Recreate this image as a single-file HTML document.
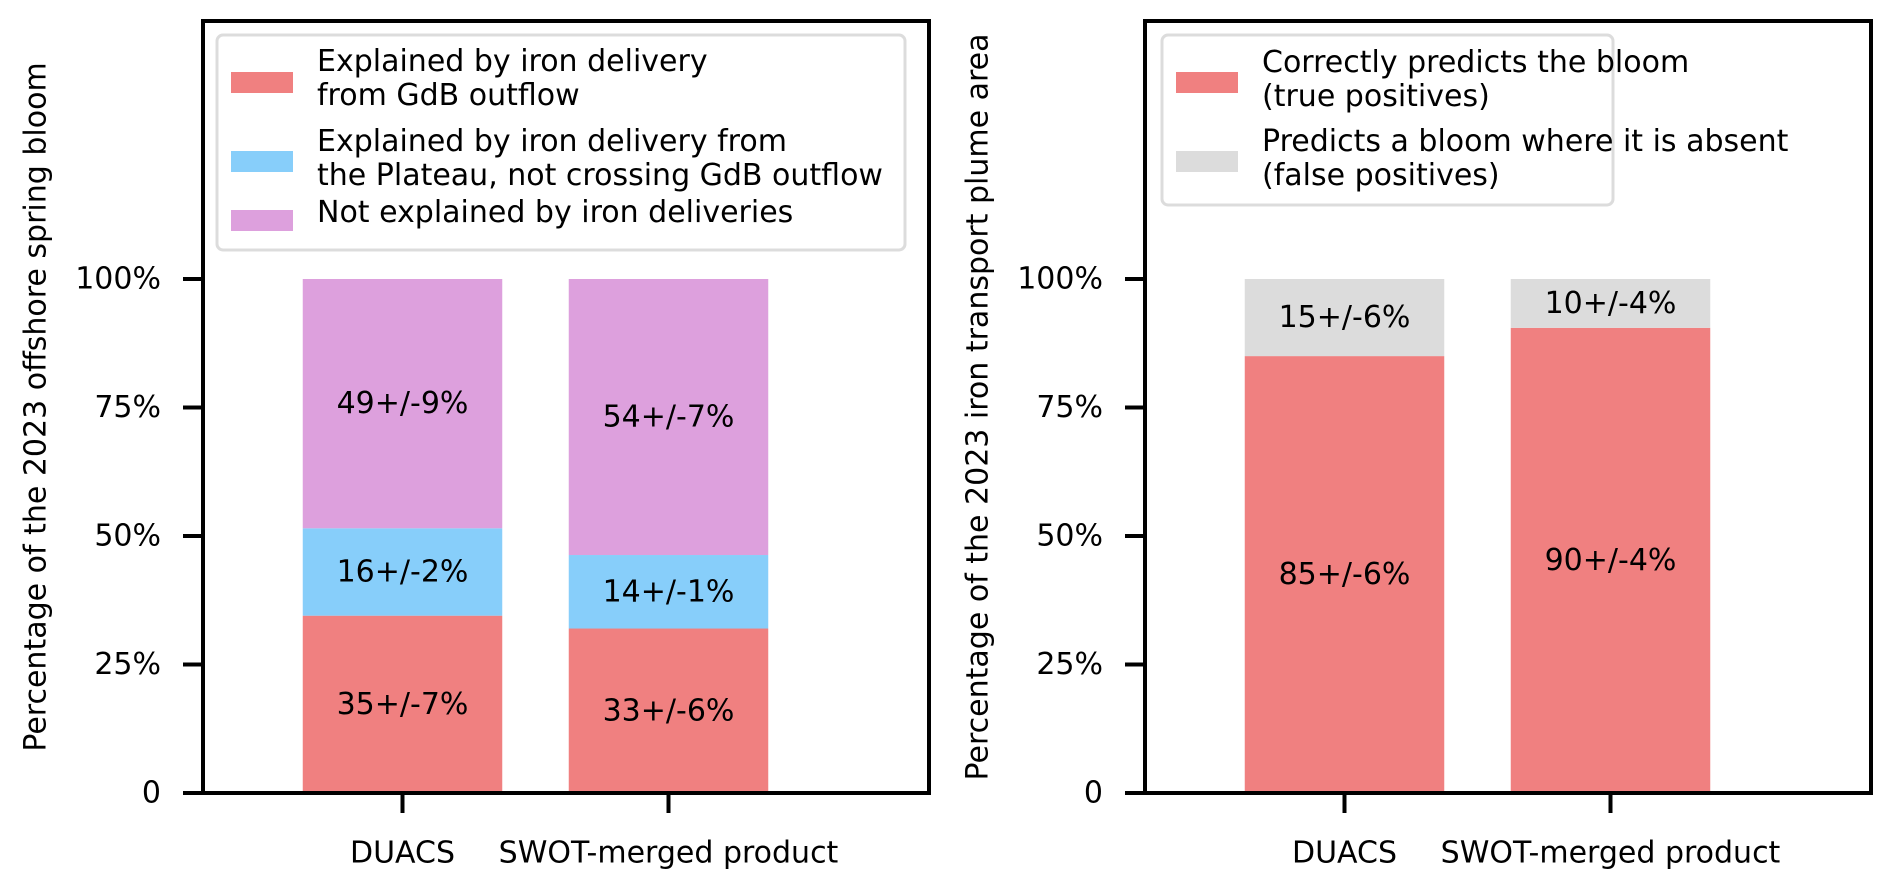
<!DOCTYPE html>
<html><head><meta charset="utf-8"><style>
html,body{margin:0;padding:0;background:#fff;}
svg{display:block;font-family:"DejaVu Sans","Liberation Sans",sans-serif;}
</style></head><body>
<svg id="fig" width="1892" height="885" viewBox="0 0 1892 885"></svg>
<script>
const categories = ["DUACS", "SWOT-merged product"];
const leftRed = [34.5, 32];
const leftBlue = [17, 14.3];
const leftPink = [48.5, 53.7];
const leftRedLabels = ["35+/-7%", "33+/-6%"];
const leftBlueLabels = ["16+/-2%", "14+/-1%"];
const leftPinkLabels = ["49+/-9%", "54+/-7%"];
const rightTrue = [85, 90.5];
const rightFalse = [15, 9.5];
const rightTrueLabels = ["85+/-6%", "90+/-4%"];
const rightFalseLabels = ["15+/-6%", "10+/-4%"];
const yTicks = [0, 25, 50, 75, 100];
const yTickLabels = ["0", "25%", "50%", "75%", "100%"];

const NS = "http://www.w3.org/2000/svg";
const svg = document.getElementById("fig");
function el(tag, attrs, parent, text) {
  const e = document.createElementNS(NS, tag);
  for (const k in attrs) e.setAttribute(k, attrs[k]);
  if (text !== undefined) e.textContent = text;
  (parent || svg).appendChild(e);
  return e;
}
const Y0 = 793, PX = 5.14, BW = 199.5, STEP = 266;
function yS(v) { return Y0 - v * PX; }

function drawAxes(ax) {
  const g = el("g", {});
  
  
  const xS = c => ax.left + (c + 0.75) * STEP;
  ax.series.forEach((s, si) => {
    categories.forEach((cat, i) => {
      let base = 0;
      for (let k = 0; k < si; k++) base += ax.series[k].vals[i];
      const v = s.vals[i];
      const r = el("rect", {x: xS(i) - BW / 2, y: yS(base + v), width: BW, height: v * PX, fill: s.color}, g);
      
      
      const t = el("text", {x: xS(i), y: yS(base + v / 2), "font-size": 30, "text-anchor": "middle", "dominant-baseline": "central", fill: "#000"}, g, s.labels[i]);
      
      
    });
  });
  yTicks.forEach((v, i) => {
    el("line", {x1: ax.left - 20, x2: ax.left, y1: yS(v), y2: yS(v), stroke: "#000", "stroke-width": 4}, g);
    const t = el("text", {x: ax.left - 42, y: yS(v), "font-size": 30, "text-anchor": "end", "dominant-baseline": "central"}, g, yTickLabels[i]);
    
    
  });
  categories.forEach((c, i) => {
    el("line", {x1: xS(i), x2: xS(i), y1: Y0, y2: Y0 + 20, stroke: "#000", "stroke-width": 4}, g);
    const t = el("text", {x: xS(i), y: 853, "font-size": 30, "text-anchor": "middle", "dominant-baseline": "central"}, g, c);
    
    
  });
  el("rect", {x: ax.left, y: 21, width: 726, height: Y0 - 21, fill: "none", stroke: "#000", "stroke-width": 4}, g);
  const yt = el("text", {x: 0, y: 0, "font-size": 30, "text-anchor": "middle", "dominant-baseline": "central", transform: "translate(" + (ax.left - 167) + ",407) rotate(-90)"}, g, ax.ytitle);
  
  
  const lg = el("g", {}, g);
  
  
  el("rect", {x: ax.leg.x, y: 35, width: ax.leg.w, height: ax.leg.h, rx: 6, fill: "#fff", "fill-opacity": 0.85, stroke: "#dcdcdc", "stroke-width": 3}, lg);
  ax.leg.entries.forEach(en => {
    const pr = el("rect", {x: ax.leg.x + 14, y: en.py, width: 62, height: 21, fill: en.color}, lg);
    
    
    en.lines.forEach((ln, j) => {
      const t = el("text", {x: ax.leg.x + 100, y: en.base[j], "font-size": 30}, lg, ln);
      
      
    });
  });
}

drawAxes({
  name: "left-chart", left: 203,
  ytitle: "Percentage of the 2023 offshore spring bloom",
  series: [
    {key: "gdb-outflow", vals: leftRed, labels: leftRedLabels, color: "#F08080"},
    {key: "plateau", vals: leftBlue, labels: leftBlueLabels, color: "#87CEFA"},
    {key: "not-explained", vals: leftPink, labels: leftPinkLabels, color: "#DDA0DD"}
  ],
  leg: {x: 217, w: 688, h: 215, entries: [
    {color: "#F08080", py: 72, lines: ["Explained by iron delivery", "from GdB outflow"], base: [71, 105]},
    {color: "#87CEFA", py: 151, lines: ["Explained by iron delivery from", "the Plateau, not crossing GdB outflow"], base: [151, 185]},
    {color: "#DDA0DD", py: 210, lines: ["Not explained by iron deliveries"], base: [222]}
  ]}
});
drawAxes({
  name: "right-chart", left: 1145,
  ytitle: "Percentage of the 2023 iron transport plume area",
  series: [
    {key: "true-positives", vals: rightTrue, labels: rightTrueLabels, color: "#F08080"},
    {key: "false-positives", vals: rightFalse, labels: rightFalseLabels, color: "#DCDCDC"}
  ],
  leg: {x: 1162, w: 451, h: 170, entries: [
    {color: "#F08080", py: 72, lines: ["Correctly predicts the bloom", "(true positives)"], base: [72, 106]},
    {color: "#DCDCDC", py: 151, lines: ["Predicts a bloom where it is absent", "(false positives)"], base: [151, 185]}
  ]}
});
</script>
</body></html>
